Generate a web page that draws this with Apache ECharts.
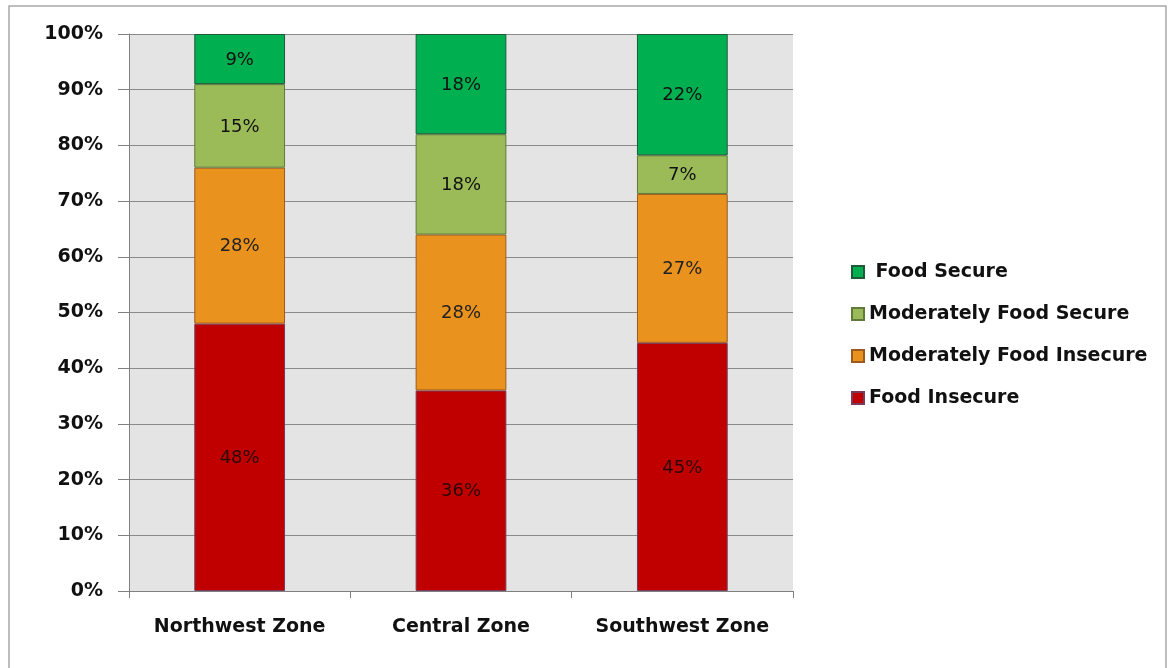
<!DOCTYPE html>
<html>
<head>
<meta charset="utf-8">
<title>Food security by zone</title>
<script src="https://cdn.jsdelivr.net/npm/echarts@6/dist/echarts.min.js"></script>
<style>
  html, body { margin: 0; padding: 0; background: #ffffff; }
  #chart { width: 1170px; height: 668px; }
</style>
</head>
<body>
<div id="chart"></div>
<script>
// Zones along the horizontal axis
const zones = ['Northwest Zone', 'Central Zone', 'Southwest Zone'];

// Share of households in each food-security group (%)
const foodInsecure = [48, 36, 45];
const modInsecure = [28, 28, 27];
const modSecure = [15, 18, 7];
const foodSecure = [9, 18, 22];

// Vertical axis ticks
const yTicks = [0, 10, 20, 30, 40, 50, 60, 70, 80, 90, 100];

const groups = [
  { name: 'Food Insecure', values: foodInsecure, color: '#C00000', border: '#7a3a5a', label: '#2a0505' },
  { name: 'Moderately Food Insecure', values: modInsecure, color: '#EA921E', border: '#9a5a20', label: '#222222' },
  { name: 'Moderately Food Secure', values: modSecure, color: '#9BBB59', border: '#5f7a3a', label: '#111111' },
  { name: 'Food Secure', values: foodSecure, color: '#00B050', border: '#1e5a3a', label: '#111111' }
];

// Each column is stacked to 100%, so every group is shown as a share of its column total
const totals = zones.map((_, i) => groups.reduce((s, g) => s + g.values[i], 0));

const series = groups.map(g => ({
  name: g.name,
  type: 'bar',
  stack: 'zone',
  barWidth: '41%',
  data: g.values.map((v, i) => ({ value: v / totals[i] * 100, raw: v })),
  itemStyle: { color: g.color, borderColor: g.border, borderWidth: 1 },
  label: {
    show: true,
    position: 'inside',
    offset: [0, 1],
    formatter: p => p.data.raw + '%',
    color: g.label,
    fontFamily: 'DejaVu Sans',
    fontSize: 18
  },
  emphasis: { disabled: true }
}));

const chart = echarts.init(document.getElementById('chart'), null, { renderer: 'canvas' });
chart.setOption({
  animation: false,
  backgroundColor: '#ffffff',
  graphic: [{
    type: 'rect',
    shape: { x: 9, y: 6, width: 1157, height: 700 },
    style: { fill: 'none', stroke: '#a9a9a9', lineWidth: 1.5 },
    silent: true
  }],
  grid: {
    left: 129, right: 377, top: 34, bottom: 77,
    show: true, backgroundColor: '#E4E4E4', borderWidth: 0
  },
  legend: {
    orient: 'vertical',
    left: 846,
    top: 257,
    itemWidth: 12,
    itemHeight: 12,
    itemGap: 22,
    icon: 'rect',
    data: ['Food Secure', 'Moderately Food Secure', 'Moderately Food Insecure', 'Food Insecure'],
    formatter: name => name === 'Food Secure' ? ' ' + name : name,
    textStyle: { fontFamily: 'DejaVu Sans', fontWeight: 'bold', fontSize: 19, color: '#111111', lineHeight: 20 }
  },
  xAxis: {
    type: 'category',
    data: zones,
    boundaryGap: true,
    axisLine: { lineStyle: { color: '#808080', width: 1 } },
    axisTick: { show: true, interval: 0, length: 7, lineStyle: { color: '#808080' } },
    axisLabel: { interval: 0, hideOverlap: false, margin: 27, color: '#111111', fontFamily: 'DejaVu Sans', fontWeight: 'bold', fontSize: 19 }
  },
  yAxis: {
    type: 'value',
    min: yTicks[0],
    max: yTicks[yTicks.length - 1],
    interval: yTicks[1] - yTicks[0],
    axisLine: { show: true, lineStyle: { color: '#808080', width: 1 } },
    axisTick: { show: true, length: 11, lineStyle: { color: '#808080' } },
    splitLine: { lineStyle: { color: '#8a8a8a', width: 1 } },
    axisLabel: { formatter: '{value}%', margin: 26, color: '#111111', fontFamily: 'DejaVu Sans', fontWeight: 'bold', fontSize: 19 }
  },
  series: series
});
</script>
</body>
</html>
